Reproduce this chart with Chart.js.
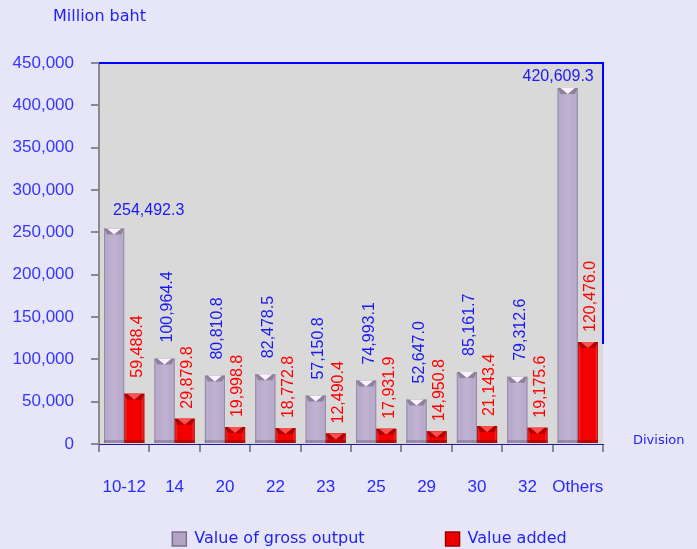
<!DOCTYPE html>
<html>
<head>
<meta charset="utf-8">
<script src="https://cdn.jsdelivr.net/npm/chart.js@4.4.1/dist/chart.umd.min.js"></script>
<style>
  html, body { margin: 0; padding: 0; background: #e6e6f8; }
  #wrap { width: 697px; height: 549px; }
</style>
</head>
<body>
<div id="wrap"><canvas id="chart" width="697" height="549"></canvas></div>
<script>
// ==================== DATA ====================
const divisions = ["10-12", "14", "20", "22", "23", "25", "29", "30", "32", "Others"];
const grossOutput = [254492.3, 100964.4, 80810.8, 82478.5, 57150.8, 74993.1, 52647.0, 85161.7, 79312.6, 420609.3];
const valueAdded = [59488.4, 29879.8, 19998.8, 18772.8, 12490.4, 17931.9, 14950.8, 21143.4, 19175.6, 120476.0];
const yTicks = [0, 50000, 100000, 150000, 200000, 250000, 300000, 350000, 400000, 450000];

const NUM_FONT = "'Liberation Sans', Arial, sans-serif";
const TXT_FONT = "'DejaVu Sans', sans-serif";
const BLUE = "#2323f0";
const GRAY_BAR = "#b7a9cb";
const RED_BAR = "#f20000";

function fmt1(v) {
  return v.toLocaleString("en-US", { minimumFractionDigits: 1, maximumFractionDigits: 1 });
}

// Background + plot area + borders + axis titles
const frame = {
  id: "frame",
  afterLayout(chart) {
    // move the legend row under the plot like the original
    const lg = chart.legend;
    lg.left += 68;
    lg.right += 68;
    lg.top -= 48;
  },
  beforeDraw(chart) {
    const { ctx, chartArea: a } = chart;
    ctx.save();
    ctx.fillStyle = "#e6e6f8";
    ctx.fillRect(0, 0, chart.width, chart.height);
    ctx.fillStyle = "#d9d9d9";
    ctx.fillRect(a.left, a.top, a.right - a.left, a.bottom - a.top);
    ctx.restore();
  },
  afterDraw(chart) {
    const { ctx, chartArea: a } = chart;
    const y = chart.scales.y;
    ctx.save();
    ctx.strokeStyle = "#0000ff";
    ctx.lineWidth = 2;
    ctx.beginPath();
    ctx.moveTo(a.left, a.top);
    ctx.lineTo(a.right, a.top);
    ctx.lineTo(a.right, y.getPixelForValue(118000));
    ctx.stroke();
    ctx.fillStyle = BLUE;
    ctx.textBaseline = "middle";
    ctx.font = "16px " + TXT_FONT;
    ctx.fillText("Million baht", 53, 17);
    ctx.font = "13px " + TXT_FONT;
    ctx.fillText("Division", 633, 441);
    ctx.restore();
  },
};

// 3D-ish shading on the bars
const barShade = {
  id: "barShade",
  afterDatasetsDraw(chart) {
    const ctx = chart.ctx;
    ctx.save();
    chart.data.datasets.forEach((ds, di) => {
      const meta = chart.getDatasetMeta(di);
      meta.data.forEach((bar) => {
        const p = bar.getProps(["x", "y", "base", "width"], true);
        const l = p.x - p.width / 2;
        const r = p.x + p.width / 2;
        const w = p.width;
        const g = ctx.createLinearGradient(l, 0, r, 0);
        if (di === 0) {
          g.addColorStop(0, "rgba(90,70,110,0.55)");
          g.addColorStop(0.15, "rgba(255,255,255,0.0)");
          g.addColorStop(0.5, "rgba(255,255,255,0.12)");
          g.addColorStop(0.85, "rgba(255,255,255,0.0)");
          g.addColorStop(1, "rgba(90,70,110,0.55)");
        } else {
          g.addColorStop(0, "rgba(120,0,0,0.55)");
          g.addColorStop(0.15, "rgba(255,255,255,0.0)");
          g.addColorStop(0.85, "rgba(255,255,255,0.0)");
          g.addColorStop(1, "rgba(120,0,0,0.55)");
        }
        ctx.fillStyle = g;
        ctx.fillRect(l, p.y, w, p.base - p.y);
        // top bevel
        const h = Math.min(6, p.base - p.y);
        ctx.beginPath();
        ctx.moveTo(l, p.y);
        ctx.lineTo(r, p.y);
        ctx.lineTo(r - 3, p.y + h);
        ctx.lineTo(l + 3, p.y + h);
        ctx.closePath();
        ctx.fillStyle = di === 0 ? "#8f8199" : "#b00000";
        ctx.fill();
        ctx.beginPath();
        ctx.moveTo(l + 3, p.y);
        ctx.lineTo(r - 3, p.y);
        ctx.lineTo(p.x, p.y + h);
        ctx.closePath();
        ctx.fillStyle = di === 0 ? "#fbf3ff" : "#ff5050";
        ctx.fill();
        // bottom bevel
        ctx.fillStyle = di === 0 ? "rgba(90,70,110,0.35)" : "rgba(110,0,0,0.4)";
        ctx.fillRect(l, p.base - 3, w, 3);
      });
    });
    ctx.restore();
  },
};

// Value labels above the bars
const valueLabels = {
  id: "valueLabels",
  afterDatasetsDraw(chart) {
    const ctx = chart.ctx;
    ctx.save();
    ctx.font = "16px " + NUM_FONT;
    chart.data.datasets.forEach((ds, di) => {
      const meta = chart.getDatasetMeta(di);
      const last = ds.data.length - 1;
      meta.data.forEach((bar, i) => {
        const text = fmt1(ds.data[i]);
        ctx.fillStyle = di === 0 ? "#1a1aee" : "#ff0000";
        if (di === 0 && (i === 0 || i === last)) {
          ctx.textBaseline = "middle";
          if (i === 0) {
            ctx.textAlign = "left";
            ctx.fillText(text, bar.x - 1, bar.y - 18);
          } else {
            ctx.textAlign = "right";
            ctx.fillText(text, bar.x + 26, bar.y - 11);
          }
          return;
        }
        const gap = di === 0 ? 16 : i === 0 ? 16 : 10;
        ctx.save();
        ctx.translate(bar.x + 3, bar.y - gap);
        ctx.rotate(-Math.PI / 2);
        ctx.textAlign = "left";
        ctx.textBaseline = "middle";
        ctx.fillText(text, 0, 0);
        ctx.restore();
      });
    });
    ctx.restore();
  },
};

const chart = new Chart(document.getElementById("chart"), {
  type: "bar",
  data: {
    labels: divisions,
    datasets: [
      {
        label: "Value of gross output",
        data: grossOutput,
        backgroundColor: GRAY_BAR,
        categoryPercentage: 0.8,
        barPercentage: 1.0,
      },
      {
        label: "Value added",
        data: valueAdded,
        backgroundColor: RED_BAR,
        categoryPercentage: 0.8,
        barPercentage: 1.0,
      },
    ],
  },
  options: {
    responsive: false,
    animation: false,
    devicePixelRatio: 1,
    layout: {
      padding: { top: 63, right: 94, left: 0, bottom: -9 },
    },
    plugins: {
      legend: {
        display: true,
        position: "bottom",
        maxHeight: 60,
        labels: {
          font: { family: TXT_FONT, size: 16 },
          color: BLUE,
          boxWidth: 14,
          boxHeight: 14,
          padding: 81,
          generateLabels: (c) =>
            c.data.datasets.map((ds, i) => ({
              text: ds.label,
              fillStyle: i === 0 ? "#b3a4c6" : "#ee0000",
              strokeStyle: i === 0 ? "#7d6e8e" : "#9a0000",
              lineWidth: 1.5,
              fontColor: BLUE,
              datasetIndex: i,
            })),
        },
      },
      title: { display: false },
      tooltip: { enabled: false },
    },
    scales: {
      y: {
        min: 0,
        max: 450000,
        afterBuildTicks: (s) => {
          s.ticks = yTicks.map((v) => ({ value: v }));
        },
        afterFit: (s) => {
          s.width = 99;
        },
        ticks: {
          color: "#3535ff",
          font: { family: NUM_FONT, size: 17 },
          padding: 17,
          callback: (v) => v.toLocaleString("en-US"),
        },
        grid: {
          display: true,
          drawOnChartArea: false,
          drawTicks: true,
          tickLength: 8,
          color: "#8a8a8a",
          lineWidth: 2,
        },
        border: { display: true, color: "#8a8a8a", width: 2 },
      },
      x: {
        afterFit: (s) => {
          s.height = 54;
        },
        ticks: {
          color: "#2a2aff",
          font: { family: NUM_FONT, size: 17 },
          padding: 25,
          maxRotation: 0,
          autoSkip: false,
        },
        grid: {
          display: true,
          offset: true,
          drawOnChartArea: false,
          drawTicks: true,
          tickLength: 8,
          color: "#8a8a8a",
          lineWidth: 2,
        },
        border: { display: true, color: "#1c1ca0", width: 1 },
      },
    },
  },
  plugins: [frame, barShade, valueLabels],
});
</script>
</body>
</html>
